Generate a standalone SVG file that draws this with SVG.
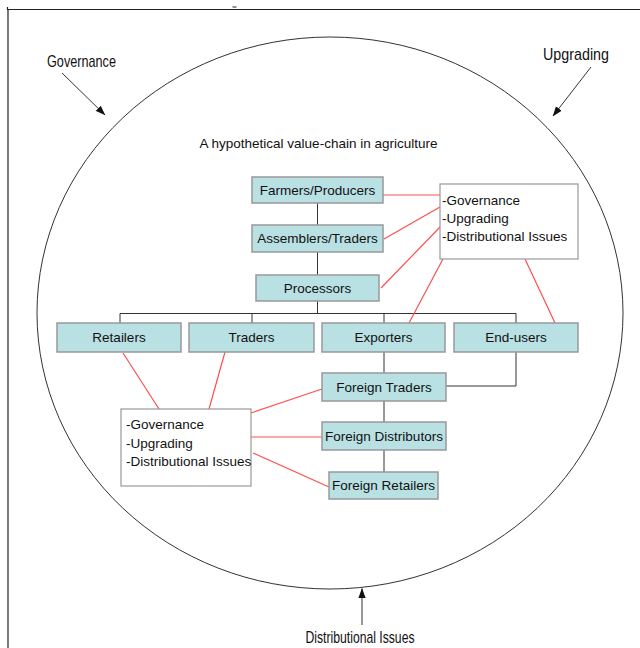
<svg xmlns="http://www.w3.org/2000/svg" width="640" height="648" viewBox="0 0 640 648">
<style>
  .box { fill: #B9E0E3; stroke: #999999; stroke-width: 1.5; }
  .note { fill: #FFFFFF; stroke: #999999; stroke-width: 1.2; }
  .lbl { font-family: "Liberation Sans", Arial, sans-serif; font-size: 13.5px; fill: #111111; text-anchor: middle; }
  .ntxt { font-family: "Liberation Sans", Arial, sans-serif; font-size: 13.5px; fill: #111111; }
  .outer { font-family: "Liberation Sans Narrow", "Liberation Sans", Arial, sans-serif; font-size: 17px; fill: #111111; }
  .blk { fill: none; stroke: #333333; stroke-width: 1; }
  .red { fill: none; stroke: #FF4F4F; stroke-width: 1.2; }
  .arr { fill: none; stroke: #333333; stroke-width: 1; marker-end: url(#ah); }
</style>
<defs>
  <marker id="ah" viewBox="0 0 10 10" refX="9.5" refY="5" markerWidth="10" markerHeight="8" markerUnits="userSpaceOnUse" orient="auto" preserveAspectRatio="none">
    <path d="M0,0.5 L10,5 L0,9.5 Z" fill="#111111"/>
  </marker>
</defs>
<rect width="640" height="648" fill="#FFFFFF"/>
<g id="frame">
  <path d="M8 9.5 H640 M8 9.5 V648 M7.5 7 V10" stroke="#222222" stroke-width="1.2" fill="none"/>
  <path d="M232.5 7 H236.5" stroke="#222222" stroke-width="1" fill="none"/>
</g>
<g id="boundary">
  <ellipse cx="330" cy="313" rx="293" ry="276" fill="none" stroke="#333333" stroke-width="1"/>
</g>
<g id="outer-labels">
  <text class="outer" x="47" y="67" textLength="69" lengthAdjust="spacingAndGlyphs">Governance</text>
  <text class="outer" x="543" y="60" textLength="66" lengthAdjust="spacingAndGlyphs">Upgrading</text>
  <text class="outer" x="305.5" y="643" textLength="109" lengthAdjust="spacingAndGlyphs">Distributional Issues</text>
  <text class="ntxt" x="318.5" y="148" text-anchor="middle">A hypothetical value-chain in agriculture</text>
</g>
<g id="connectors">
  <path class="arr" d="M62 73 L105 115"/>
  <path class="arr" d="M591 67 L553 116"/>
  <path class="arr" d="M362 625 V588.5"/>
  <path class="blk" d="M317.5 203 V225 M317.5 252 V275 M317.5 301 V313.5 M120 313.5 H516 M120 313.5 V323 M252 313.5 V323 M384 313.5 V323 M516 313.5 V323"/>
  <path class="blk" d="M384 352 V373 M384 401 V422 M384 450 V472 M516 352 V386 H446"/>
  <path class="red" d="M383 195 H440 M384 239 L440 207 M381 288 L442 225 M409 323 L443 259 M555 323 L525 259"/>
  <path class="red" d="M123 353 L159 409 M225 352 L209 409 M251 413 L322 389 M251 437 H322 M253 453 L329 487"/>
</g>
<g id="farmers"><rect class="box" x="252" y="177" width="131" height="26"/><text class="lbl" x="317.5" y="194.5">Farmers/Producers</text></g>
<g id="assemblers"><rect class="box" x="252" y="225" width="131" height="27"/><text class="lbl" x="317.5" y="243">Assemblers/Traders</text></g>
<g id="processors"><rect class="box" x="256" y="275" width="123" height="26"/><text class="lbl" x="317.5" y="292.5">Processors</text></g>
<g id="retailers"><rect class="box" x="57" y="323" width="124" height="29"/><text class="lbl" x="119" y="342">Retailers</text></g>
<g id="traders"><rect class="box" x="189" y="323" width="125" height="29"/><text class="lbl" x="251.5" y="342">Traders</text></g>
<g id="exporters"><rect class="box" x="322" y="323" width="123" height="29"/><text class="lbl" x="383.5" y="342">Exporters</text></g>
<g id="end-users"><rect class="box" x="454" y="323" width="124" height="29"/><text class="lbl" x="516" y="342">End-users</text></g>
<g id="foreign-traders"><rect class="box" x="322" y="373" width="124" height="28"/><text class="lbl" x="384" y="391.5">Foreign Traders</text></g>
<g id="foreign-distributors"><rect class="box" x="322" y="422" width="124" height="28"/><text class="lbl" x="384" y="440.5">Foreign Distributors</text></g>
<g id="foreign-retailers"><rect class="box" x="329" y="472" width="109" height="27"/><text class="lbl" x="383.5" y="490">Foreign Retailers</text></g>
<g id="issues-top">
  <rect class="note" x="440" y="184" width="138" height="75"/>
  <text class="ntxt" x="442" y="205">-Governance</text>
  <text class="ntxt" x="442" y="223">-Upgrading</text>
  <text class="ntxt" x="442" y="241">-Distributional Issues</text>
</g>
<g id="issues-bottom">
  <rect class="note" x="121" y="409" width="130" height="77"/>
  <text class="ntxt" x="126" y="429">-Governance</text>
  <text class="ntxt" x="126" y="447.5">-Upgrading</text>
  <text class="ntxt" x="126" y="466">-Distributional Issues</text>
</g>
</svg>
